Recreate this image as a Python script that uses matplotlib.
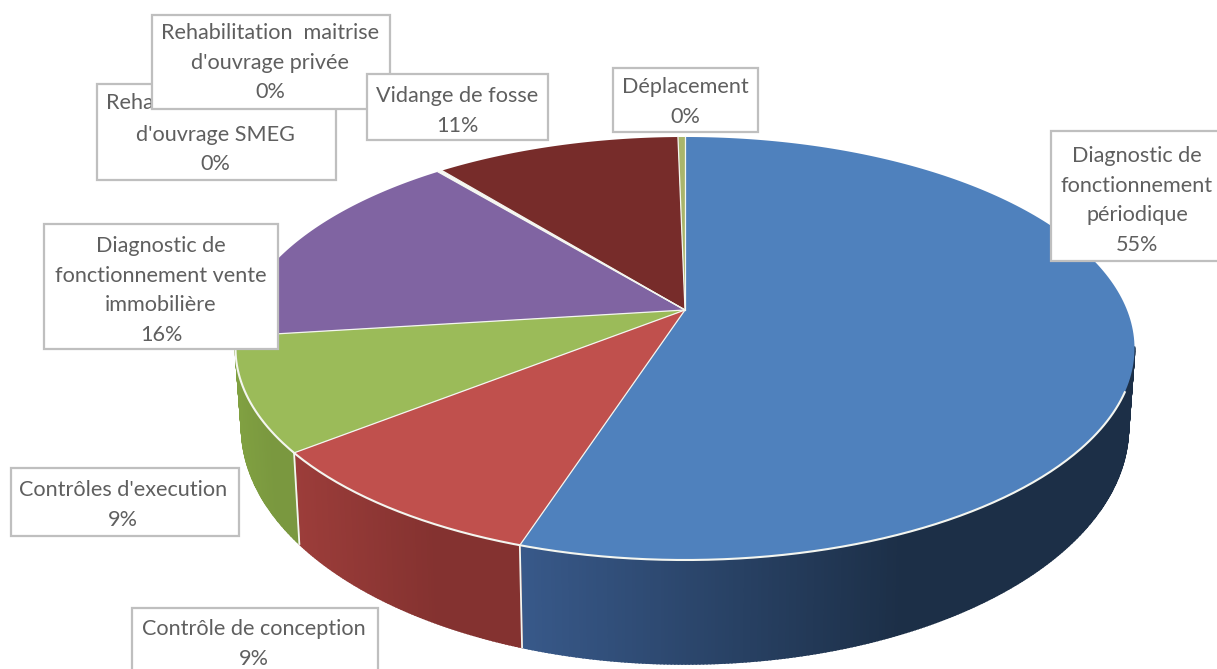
import matplotlib
matplotlib.use("Agg")
import matplotlib.pyplot as plt
import matplotlib.colors as mcolors
from matplotlib.patches import Polygon, Rectangle
import numpy as np

plt.rcParams['font.family'] = ['Lato', 'DejaVu Sans']

# values clockwise from 12 o'clock
categories = ["Diagnostic de\nfonctionnement\npériodique",
              "Contrôle de conception",
              "Contrôles d'execution",
              "Diagnostic de\nfonctionnement vente\nimmobilière",
              "Rehabilitation  maitrise\nd'ouvrage SMEG",
              "Rehabilitation  maitrise\nd'ouvrage privée",
              "Vidange de fosse",
              "Déplacement"]
values = [55.0, 9.36, 8.64, 16.0, 0.1, 0.1, 10.5, 0.3]
percent_labels = ["55%", "9%", "9%", "16%", "0%", "0%", "11%", "0%"]

top_colors = ["#4f81bd", "#c0504d", "#9bbb59", "#8064a2", "#ffffff", "#ffffff", "#772c2a", "#a9b56b"]
side_left = ["#38598a", "#9c3d3a", "#80a041"]
side_right = ["#1c2f47", "#843230", "#7a983f"]

# label boxes: left, top, right, bottom, text centre x, first line y
boxes = [(1051, 131, 1222, 261, 1137, 156),
         (132, 608, 378, 675, 254, 629),
         (11, 468, 239, 536, 123, 490),
         (44, 224, 278, 349, 161, 246),
         (97, 84, 336, 180, 215, 103),
         (152, 15, 390, 109, 270, 33),
         (367, 74, 548, 140, 457, 96),
         (613, 68, 758, 132, 685, 87)]
line_step = 29.7

# perspective of the disc
cx, k = 685, 0.182
top_cy, top_a, top_b = 310, 204.5, 442
bot_cy, bot_a, bot_b = 384, 229, 436
wall_from = np.radians(100)


def project(theta, cy, a, b):
    u, v = np.sin(theta), np.cos(theta)
    w = 1 + k * v
    return cx + b * u / w, cy - a * v / w


fig = plt.figure(figsize=(12.17, 6.69), dpi=100)
ax = fig.add_axes([0, 0, 1, 1])
ax.set_xlim(0, 1217)
ax.set_ylim(669, 0)
ax.axis("off")

edges = np.cumsum([0] + values) / sum(values) * 2 * np.pi

# side wall first, strip by strip so the shading runs along x
# only the first three slices face the viewer
for i in range(3):
    start = max(edges[i], wall_from)
    thetas = np.linspace(start, edges[i + 1], max(2, int((edges[i + 1] - start) * 150)))
    tx, ty = project(thetas, top_cy, top_a, top_b)
    bx, by = project(thetas, bot_cy, bot_a, bot_b)
    c0 = np.array(mcolors.to_rgb(side_left[i]))
    c1 = np.array(mcolors.to_rgb(side_right[i]))
    lo, hi = tx.min(), tx.max()
    for j in range(len(thetas) - 1):
        t = (tx[j] - lo) / max(hi - lo, 1)
        t = min(1, t * 1.6)
        col = c0 + (c1 - c0) * t
        ax.add_patch(Polygon([(tx[j], ty[j]), (tx[j + 1], ty[j + 1]), (bx[j + 1], by[j + 1]), (bx[j], by[j])],
                             facecolor=col, edgecolor=col, lw=1.2, zorder=2))

# top face
for i in range(len(values)):
    thetas = np.linspace(edges[i], edges[i + 1], 200)
    tx, ty = project(thetas, top_cy, top_a, top_b)
    pts = [(cx, top_cy)] + list(zip(tx, ty))
    ax.add_patch(Polygon(pts, facecolor=top_colors[i], edgecolor="none", zorder=3))

# white rim on the front and lines between the slices
rim = np.linspace(np.radians(112), np.radians(274), 300)
rx, ry = project(rim, top_cy, top_a, top_b)
ax.plot(rx, ry, color="#f4f6f0", lw=1.5, zorder=4)
for i in range(len(values)):
    ex, ey = project(edges[i], top_cy, top_a, top_b)
    ax.plot([cx, ex], [top_cy, ey], color="#f4f6f0", lw=0.9, zorder=4)
    if np.radians(112) < edges[i] < np.radians(262):
        fx, fy = project(edges[i], bot_cy, bot_a, bot_b)
        ax.plot([ex, fx], [ey, fy], color="#f4f6f0", lw=1.3, zorder=2.5)

# data labels, later boxes sit on top of earlier ones
for i in range(len(categories)):
    left, top, right, bottom, tcx, ty0 = boxes[i]
    ax.add_patch(Rectangle((left, top), right - left, bottom - top, facecolor="white",
                           edgecolor="#bfbfbf", lw=1.6, zorder=5 + i))
    lines = categories[i].split("\n") + [percent_labels[i]]
    for m, line in enumerate(lines):
        y = ty0 + m * line_step
        if i == 4 and m > 0:
            y += 2
        ax.text(tcx, y, line, ha="center", va="center", fontsize=15.6,
                color="#5f5f5f", zorder=5 + i)

fig.savefig("out.png", dpi=100)
